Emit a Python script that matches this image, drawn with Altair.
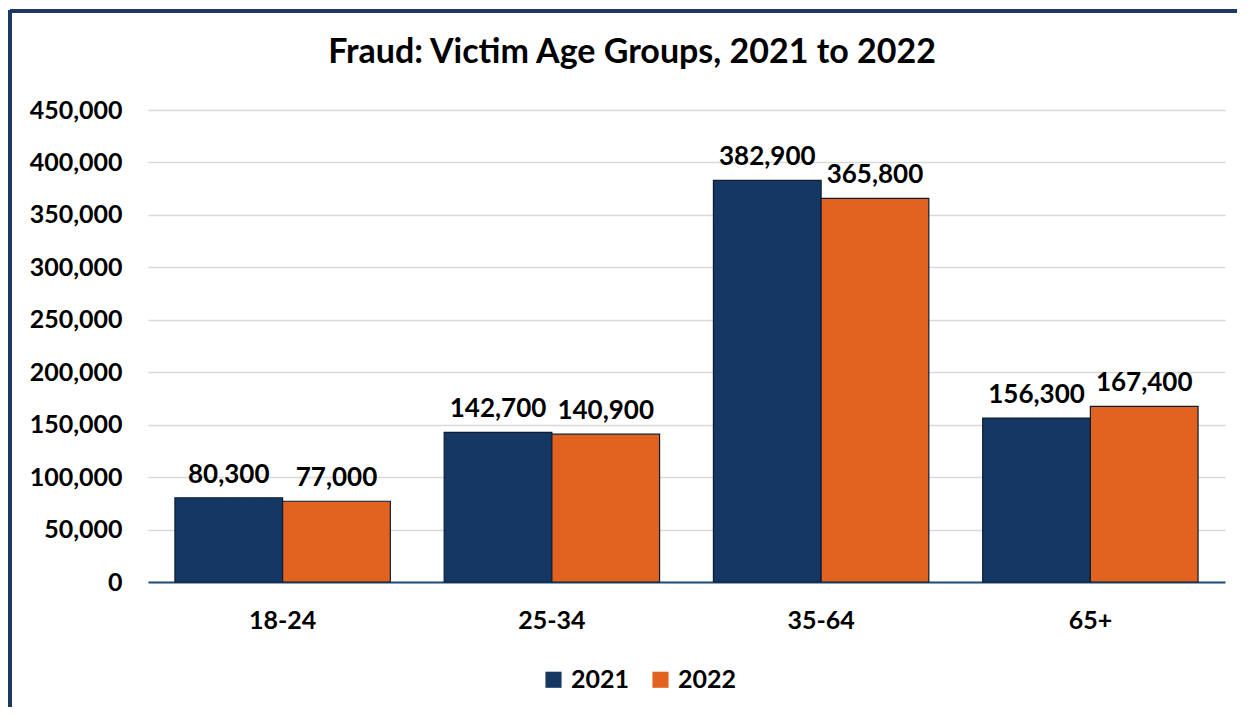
import altair as alt
import pandas as pd

title_text = ["Fraud: Victim Age Groups, 2021 to 2022"]
age_groups = ["18-24", "25-34", "35-64", "65+"]
years = ["2021", "2022"]
values_2021 = [80300, 142700, 382900, 156300]
values_2022 = [77000, 140900, 365800, 167400]
y_ticks = [0, 50000, 100000, 150000, 200000, 250000, 300000, 350000, 400000, 450000]

rows = []
for i, g in enumerate(age_groups):
    rows.append({"age": g, "year": "2021", "value": values_2021[i]})
    rows.append({"age": g, "year": "2022", "value": values_2022[i]})
df = pd.DataFrame(rows)

FONT = "Lato"
color_scale = alt.Scale(domain=years, range=["#143863", "#E2631F"])

y_enc = alt.Y("value:Q", scale=alt.Scale(domain=[0, 450000], nice=False),
              axis=alt.Axis(title=None, values=y_ticks, format=",d", labelFont=FONT,
                            labelFontSize=25, labelFontWeight="bold", labelColor="#000000",
                            labelPadding=26, ticks=False, domain=False,
                            gridColor="#D9D9D9", gridWidth=1.5))

base = alt.Chart(df).encode(
    x=alt.X("age:N", sort=age_groups,
            scale=alt.Scale(paddingInner=0.2, paddingOuter=0.1),
            axis=alt.Axis(title=None, labelAngle=0, labelFont=FONT, labelFontSize=25,
                          labelFontWeight="bold", labelColor="#000000", labelPadding=26,
                          ticks=False, domainColor="#1F4E79", domainWidth=2, grid=False)),
    xOffset=alt.XOffset("year:N", sort=years, scale=alt.Scale(paddingInner=0, paddingOuter=0)),
    y=y_enc,
)

bars = base.mark_bar(stroke="#0c1d33", strokeWidth=1.2).encode(
    color=alt.Color("year:N", scale=color_scale,
                    legend=alt.Legend(title=None, orient="none", legendX=393, legendY=557,
                                      direction="horizontal", symbolType="square",
                                      symbolSize=260, symbolStrokeWidth=0,
                                      labelFont=FONT, labelFontSize=25, labelFontWeight="bold",
                                      labelColor="#000000", columnPadding=18, labelOffset=5)),
)

labels = base.mark_text(baseline="bottom", dy=-10, font=FONT, fontSize=26,
                        fontWeight="bold", color="#000000").encode(
    text=alt.Text("value:Q", format=","),
)

title = alt.Chart(pd.DataFrame({"t": title_text})).mark_text(
    font=FONT, fontSize=34, fontWeight="bold", color="#000000",
    align="center", baseline="middle"
).encode(text="t:N", x=alt.value(484), y=alt.value(-57))

border_left = alt.Chart(df).mark_rule(color="#1F3864", strokeWidth=3).encode(
    x=alt.value(-138), y=alt.value(-100), y2=alt.value(720)
)
border_top = alt.Chart(df).mark_rule(color="#1F3864", strokeWidth=3).encode(
    x=alt.value(-138), x2=alt.value(1200), y=alt.value(-99)
)

chart = alt.layer(bars, labels, title, border_left, border_top).properties(
    width=1077,
    height=472,
    autosize=alt.AutoSizeParams(type="none"),
    padding={"left": 140, "top": 102, "right": 12, "bottom": 125},
    background="white",
).configure_view(stroke=None)

chart.save("out.html", embed_options={"renderer": "svg", "actions": False})
